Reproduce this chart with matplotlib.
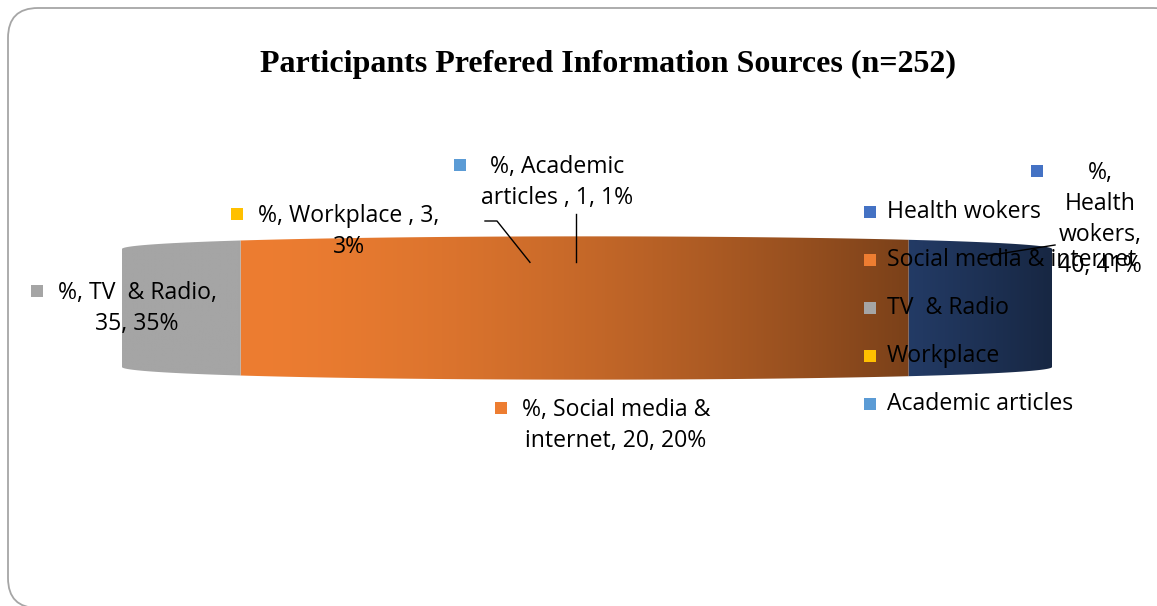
import numpy as np
import matplotlib
matplotlib.use("Agg")
import matplotlib.pyplot as plt
from matplotlib.patches import Rectangle, FancyBboxPatch, Polygon
import matplotlib.colors as mcolors
import textwrap

# ---------------- data ----------------
categories = ["Health wokers", "Social media & internet", "TV  & Radio", "Workplace ", "Academic articles "]
values = [40, 20, 35, 3, 1]
percents = [41, 20, 35, 3, 1]
colors = ["#4472C4", "#ED7D31", "#A5A5A5", "#FFC000", "#5B9BD5"]
title = "Participants Prefered Information Sources (n=252)"
series_name = "%"

# ---------------- layout / style ----------------
W, H = 1157, 606
fig = plt.figure(figsize=(W / 100, H / 100), dpi=100)
ax = fig.add_axes([0, 0, 1, 1])
ax.set_xlim(0, W)
ax.set_ylim(H, 0)
ax.axis("off")

LABEL_FONT = "Open Sans"
FS = 16.6
LINE = 31

# outer rounded border
ax.add_patch(FancyBboxPatch((8, 8), 1175, 600, boxstyle="round,pad=0,rounding_size=30",
                            fc="white", ec="#A6A6A6", lw=1.3, zorder=0))

ax.text(608, 64, title, ha="center", va="center", fontsize=23, fontweight="bold",
        family="Liberation Serif", zorder=5)

# 3D pie (seen almost edge-on, with perspective)
CX, CY = 587, 308
HALF_W, EDGE_HH = 465, 59
DX, DY = 4.0, 4.5
first_angle = 90.0  # start at 12 o'clock, slices run clockwise

sil = np.degrees(np.arcsin(1 / DX))          # silhouette (tangent) angle offset
RAD = HALF_W * np.sqrt(1 - 1 / DX ** 2)      # so silhouette lands on HALF_W
HH = EDGE_HH * (DY - 1 / DX) / DY


def proj(t_deg, z):
    t = np.radians(t_deg)
    X, Y = np.cos(t), np.sin(t)
    x = CX + RAD * X * DX / (DX + Y)
    y = CY - z * HH * DY / (DY + Y)
    return x, y


def shade(x):
    p = (x - CX) / HALF_W
    return 1 - 0.269 * np.maximum(p + 0.75, 0) ** 1.6


total = sum(values)
spans = []
hi = first_angle + 360
for v in values:
    lo = hi - v / total * 360
    spans.append((lo, hi))
    hi = lo

vis_lo, vis_hi = 180 + sil, 360 - sil
gx = np.linspace(CX - HALF_W - 5, CX + HALF_W + 5, 1200)
for (lo, hi), c in zip(spans, colors):
    base = np.array(mcolors.to_rgb(c))
    for shift in (-360, 0, 360):
        a, b = max(lo + shift, vis_lo), min(hi + shift, vis_hi)
        if b <= a:
            continue
        ts = np.linspace(a, b, max(8, int((b - a) * 4)))
        tx, ty = proj(ts, 1)
        bx, by = proj(ts[::-1], -1)
        verts = np.column_stack([np.r_[tx, bx], np.r_[ty, by]])
        poly = Polygon(verts, closed=True, fc="none", ec="none", transform=ax.transData)
        ax.add_patch(poly)
        img = np.clip(base[None, None, :] * shade(gx)[None, :, None], 0, 1)
        im = ax.imshow(img, extent=(gx[0], gx[-1], CY + 80, CY - 80), aspect="auto",
                       interpolation="bilinear", zorder=2)
        im.set_clip_path(poly)

ax.set_xlim(0, W)
ax.set_ylim(H, 0)

# ---------------- data labels ----------------
label_pos = {  # center x of text block, y of first line, wrap width
    0: (1100, 173, 7),
    1: (616, 410, 17),
    2: (137, 293, 15),
    3: (349, 216, 17),
    4: (557, 167, 16),
}
fig.canvas.draw()
renderer = fig.canvas.get_renderer()
for i, (cx, y1, wrap) in label_pos.items():
    s = f"{series_name}, {categories[i]}, {values[i]}, {percents[i]}%"
    lines = textwrap.wrap(s, wrap, drop_whitespace=True)
    txts = [ax.text(cx, y1 + k * LINE, ln, ha="center", va="center", fontsize=FS,
                    family=LABEL_FONT, zorder=6) for k, ln in enumerate(lines)]
    left = min(t.get_window_extent(renderer).x0 for t in txts)
    ax.add_patch(Rectangle((left - 21 - 6, y1 - 2 - 6), 12, 12, fc=colors[i], ec="none", zorder=6))

# leader lines
def mid_top(i):
    lo, hi = spans[i]
    return proj((lo + hi) / 2, 1)

ax_, ay_ = mid_top(4)
ax.plot([ax_, ax_], [214, ay_], color="black", lw=1, zorder=4)
wx, wy = mid_top(3)
ax.plot([485, 497, wx], [221, 221, wy], color="black", lw=1, zorder=4)
hx, hy = mid_top(0)
ax.plot([1055, hx], [245, hy], color="black", lw=1, zorder=4)

# ---------------- legend ----------------
for k, (name, c) in enumerate(zip(categories, colors)):
    y = 212 + k * 48
    ax.add_patch(Rectangle((864, y - 6), 12, 12, fc=c, ec="none", zorder=6))
    ax.text(887, y, name.strip(), ha="left", va="center", fontsize=FS, family=LABEL_FONT, zorder=6)

fig.savefig("out.png", dpi=100)
